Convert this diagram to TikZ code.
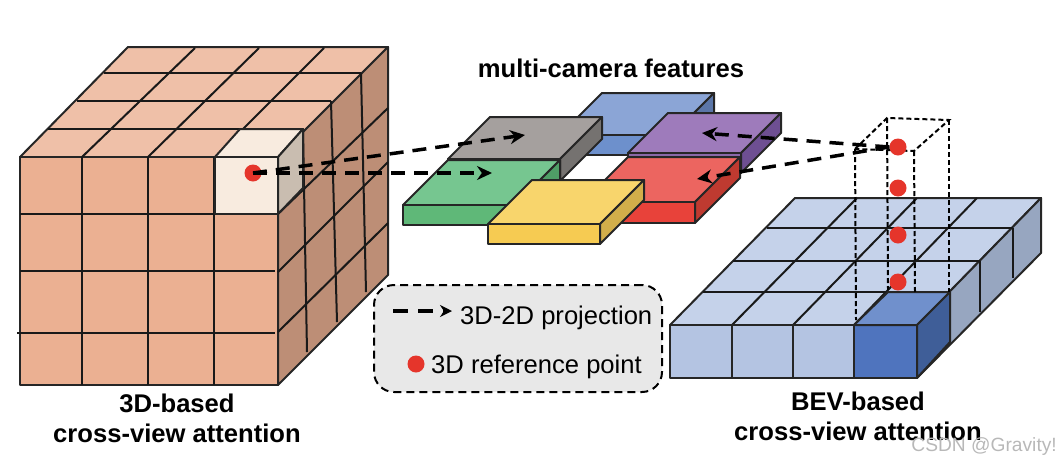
\documentclass[tikz,border=0pt]{standalone}
\usepackage{fontspec}
\setmainfont{Liberation Sans}
\usetikzlibrary{
  arrows.meta,
  positioning
}
\definecolor{cubetop}{HTML}{EFC0A8}
\definecolor{cubefront}{HTML}{EBB092}
\definecolor{cubeside}{HTML}{BD8E76}
\definecolor{celltop}{HTML}{F8EBDF}
\definecolor{cellside}{HTML}{C9BDB0}
\definecolor{bevtop}{HTML}{C5D2EA}
\definecolor{bevfront}{HTML}{B4C4E2}
\definecolor{bevside}{HTML}{97A6C0}
\definecolor{darktop}{HTML}{7090CC}
\definecolor{darkfront}{HTML}{4F74BE}
\definecolor{darkside}{HTML}{3F5E98}
\definecolor{refred}{HTML}{E5352B}
\definecolor{bluetop}{HTML}{8BA5D6}
\definecolor{bluefront}{HTML}{6D90CC}
\definecolor{blueside}{HTML}{5B76A8}
\definecolor{graytop}{HTML}{A5A09E}
\definecolor{grayfront}{HTML}{8A8684}
\definecolor{grayside}{HTML}{757270}
\definecolor{purpletop}{HTML}{9E7BBB}
\definecolor{purplefront}{HTML}{8A68A8}
\definecolor{purpleside}{HTML}{6E4F92}
\definecolor{greentop}{HTML}{76C690}
\definecolor{greenfront}{HTML}{5FB878}
\definecolor{greenside}{HTML}{4F9E66}
\definecolor{redtop}{HTML}{EC6560}
\definecolor{redfront}{HTML}{E8423A}
\definecolor{redside}{HTML}{BF3A30}
\definecolor{yellowtop}{HTML}{F8D56C}
\definecolor{yellowfront}{HTML}{F6CB52}
\definecolor{yellowside}{HTML}{D2AE4A}

\begin{document}
\begin{tikzpicture}[
  x=1pt, y=-1pt,
  face/.style={draw=black!85, line width=2pt, line join=round, fill=#1},
  gridline/.style={draw=black!90, line width=2pt},
  refpoint/.style={circle, fill=refred, inner sep=0pt, minimum size=17pt},
  projection/.style={-{Stealth[length=15pt,width=14pt]}, line width=3.5pt, dash pattern=on 14pt off 9pt},
  guide/.style={black, line width=2pt, dash pattern=on 5pt off 3pt},
  title/.style={font=\fontsize{25.6}{30}\selectfont\bfseries, align=center},
  legendtext/.style={font=\fontsize{25.6}{30}\selectfont, anchor=west, inner sep=0pt}
]
  \useasboundingbox (0,0) rectangle (1060,464);

  % 3D cube
  \draw[face=cubetop] (20,157) -- (128,47) -- (388,47) -- (278,157) -- cycle;
  \draw[face=cubefront] (20,157) rectangle (278,385);
  \draw[face=cubeside] (278,157) -- (388,47) -- (388,275) -- (278,385) -- cycle;
  \foreach \xa/\xb/\ya in {104/361/73, 77/331/101, 48/303/129}
    \draw[gridline] (\xa,\ya) -- (\xb,\ya);
  \foreach \xa/\xb in {82/195, 148/259, 215/324}
    \draw[gridline] (\xa,157) -- (\xb,48);
  \foreach \xa in {82,148,214}
    \draw[gridline] (\xa,157) -- (\xa,385);
  \foreach \xa/\xb/\ya in {20/278/214, 20/275/271, 17/275/333}
    \draw[gridline] (\xa,\ya) -- (\xb,\ya);
  \foreach \xa/\ya/\xb/\yb in {303/130/307/352, 331/101/337/322, 361/73/366/292}
    \draw[gridline] (\xa,\ya) -- (\xb,\yb);
  \foreach \ya/\yb in {214/108, 272/162, 332/223}
    \draw[gridline] (278,\ya) -- (388,\yb);

  % highlighted cell
  \draw[face=celltop] (215,157) -- (240,129) -- (303,129) -- (278,157) -- cycle;
  \draw[face=celltop] (215,157) rectangle (278,214);
  \draw[face=cellside] (278,157) -- (303,129) -- (303,188) -- (278,214) -- cycle;

  % feature slabs: back left x, y, width, depth, thickness, colour
  \foreach \xa/\ya/\wid/\dep/\thk/\col in {
      602/93/112/42/20/blue,
      490/117/112/42/22/gray,
      668/113/113/40/20/purple,
      448/160/112/45/20/green,
      628/157/112/45/21/red,
      532/180/112/44/20/yellow}{
    \draw[face=\col top] (\xa,\ya) -- ++(\wid,0) -- ++(-\dep,\dep) -- ++(-\wid,0) -- cycle;
    \draw[face=\col front] (\xa-\dep,\ya+\dep) rectangle ++(\wid,\thk);
    \draw[face=\col side] (\xa+\wid,\ya) -- ++(0,\thk) -- ++(-\dep,\dep) -- ++(0,-\thk) -- cycle;
  }
  \node[title] (features) at (611,68) {multi-camera features};

  % BEV grid
  \draw[face=bevtop] (670,325) -- (795,198) -- (1041,198) -- (917,325) -- cycle;
  \draw[face=bevside] (917,325) -- (1041,198) -- (1041,253) -- (917,378) -- cycle;
  \foreach \xa/\xb/\ya in {767/1013/228, 733/980/261, 703/950/292}
    \draw[gridline] (\xa,\ya) -- (\xb,\ya);
  \foreach \xa/\xb in {732/857, 793/917, 854/977}
    \draw[gridline] (\xa,325) -- (\xb,198);
  \foreach \xa/\ya/\yb in {950/292/342, 980/261/312, 1013/228/278}
    \draw[gridline] (\xa,\ya) -- (\xa,\yb);
  \foreach \xa/\xb/\col in {670/732/bevfront, 732/793/bevfront, 793/854/bevfront, 854/917/darkfront}
    \draw[face=\col] (\xa,325) rectangle (\xb,378);
  \draw[face=darktop] (854,325) -- (888,292) -- (950,292) -- (917,325) -- cycle;
  \draw[face=darkside] (917,325) -- (950,292) -- (950,342) -- (917,378) -- cycle;

  % pillar above the cell
  \draw[guide] (855,149) -- (887,118) -- (949,120) -- (914,151) -- cycle;
  \foreach \xa/\ya/\xb/\yb in {855/149/856/320, 887/118/888/290, 914/151/915/292, 949/120/949/292}
    \draw[guide] (\xa,\ya) -- (\xb,\yb);

  % reference points
  \node[refpoint] (cubept) at (253,173) {};
  \node[refpoint] (bevpta) at (898,147) {};
  \node[refpoint] (bevptb) at (898,188) {};
  \node[refpoint] (bevptc) at (898,235) {};
  \node[refpoint] (bevptd) at (898,282) {};

  % projections
  \coordinate (graytip) at (525,135);
  \coordinate (greentip) at (492,173);
  \coordinate (purpletip) at (702,133);
  \coordinate (redtip) at (697,179);
  \draw[projection] (cubept.center) -- (graytip);
  \draw[projection] (cubept.center) -- (greentip);
  \draw[projection] (bevpta.west) -- (purpletip);
  \draw[projection] (bevpta.west) -- (redtip);

  % legend
  \node[draw=black, fill=black!9, line width=2pt, dash pattern=on 8pt off 5pt, rounded corners=20pt,
    minimum width=288pt, minimum height=107pt] (legend) at (518,338.5) {};
  \coordinate (legstart) at (393,311);
  \coordinate (legtip) at (452,311);
  \draw[-{Stealth[length=12pt,width=12pt]}, line width=3.5pt, dash pattern=on 15pt off 10pt] (legstart) -- (legtip);
  \node[legendtext] (legproj) at (460,318) {3D-2D projection};
  \node[refpoint] (legpt) at (416,364) {};
  \node[legendtext] (legref) at (431,367) {3D reference point};

  % captions
  \node[title] (cubecap) at (177,418) {3D-based\\cross-view attention};
  \node[title] (bevcap) at (858,416) {BEV-based\\cross-view attention};
  \node[font=\fontsize{19.2}{22}\selectfont, text=black!28, anchor=east, inner sep=0pt] (mark) at (1057,447) {CSDN @Gravity!};
\end{tikzpicture}
\end{document}
